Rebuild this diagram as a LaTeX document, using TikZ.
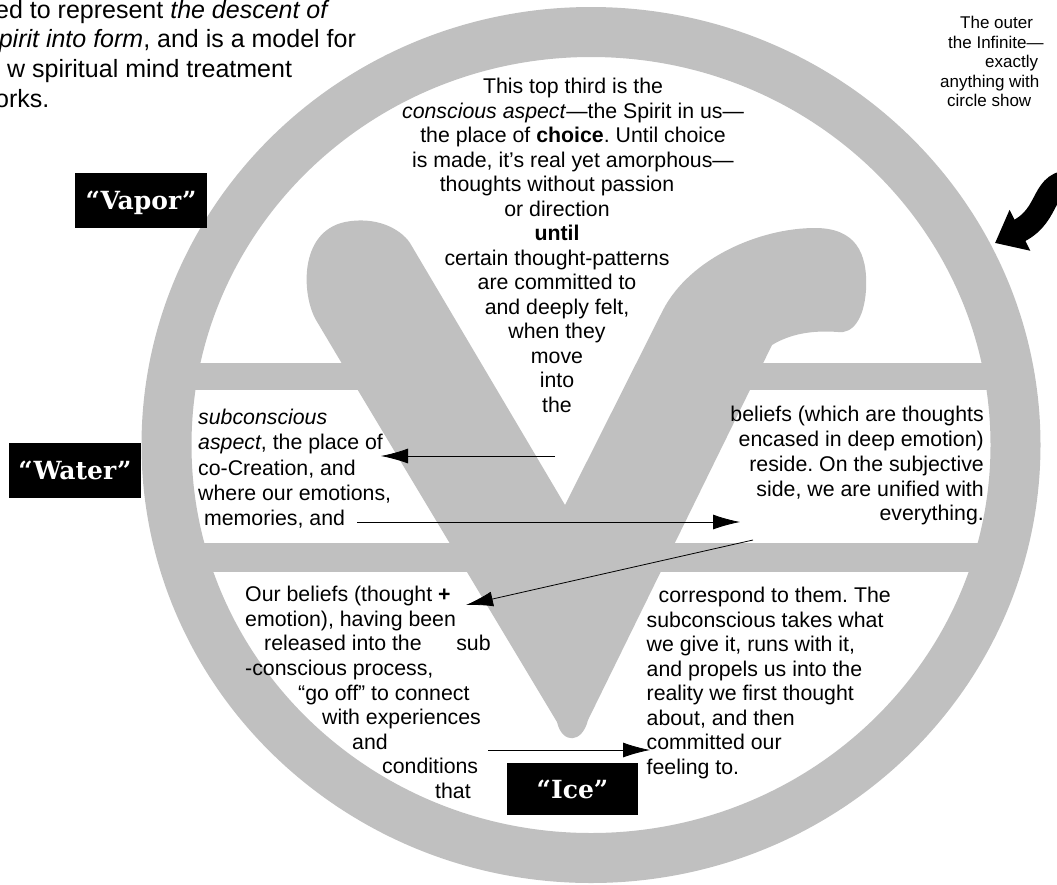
\documentclass[tikz,border=0pt]{standalone}
\usepackage{fontspec}
\setmainfont{Liberation Sans}
\newfontfamily\stagefont{DejaVu Serif}
\usetikzlibrary{
  positioning,
  arrows.meta
}
\definecolor{vgray}{HTML}{C0C0C0}
\frenchspacing
\tikzset{
  body/.style={inner sep=0pt,font=\fontsize{21.3}{24.5}\selectfont},
  stage/.style={fill=black,text=white,inner sep=0pt,minimum width=132pt,
    minimum height=55pt,text height=18pt,text depth=0pt,
    font=\stagefont\bfseries\fontsize{25}{26}\selectfont},
  thin arrow/.style={->,line width=0.8pt}
}

\begin{document}
\begin{tikzpicture}[x=1pt,y=-1pt,>={Latex[length=27pt,width=15pt]}]
  \useasboundingbox (0,0) rectangle (1057,884);
  % bands
  \fill[vgray] (170,363) rectangle (420,390);
  \fill[vgray] (690,363) rectangle (1015,390);
  \fill[vgray] (180,543) rectangle (1005,572);
  % the V
  \fill[vgray] (557,722) -- (341,362) -- (316,320)
    .. controls (302,296) and (298,232) .. (345,222)
    .. controls (375,216) and (400,228) .. (410,243)
    -- (565,505) -- (663,310)
    .. controls (690,258) and (760,228) .. (815,228)
    .. controls (855,228) and (868,252) .. (866,290)
    .. controls (864,320) and (852,334) .. (838,332)
    .. controls (812,330) and (790,334) .. (772,345)
    -- (588,720)
    .. controls (582,744) and (562,744) .. (557,722) -- cycle;
  % ring
  \draw[vgray,line width=50pt] (591,445) ellipse [x radius=424.5,y radius=413];

  % page text, cut off
  \node[inner sep=0pt,anchor=north west,align=left,
    font=\fontsize{25}{29.7}\selectfont] (intro) at (-5,-2.8)
    {\strut ed to represent \textit{the descent of}\\
     \hspace*{3.6pt}\textit{pirit into form}, and is a model for\\
     \hspace*{12pt}w spiritual mind treatment\\
     orks.};
  \node[inner sep=0pt,anchor=north west,align=left,
    font=\fontsize{17}{19.5}\selectfont] (outer) at (940,14.85)
    {\strut\hspace*{20pt}The outer\\
     \hspace*{8pt}the Infinite—\\
     \hspace*{45pt}exactly\\
     anything with\\
     \hspace*{7pt}circle show};

  % texts of the three parts
  \node[body,anchor=north,align=center] (spirit) at (573,76.35)
    {\strut This top third is the\\
     \textit{conscious aspect}—the Spirit in us—\\
     the place of \textbf{choice}. Until choice\\
     is made, it’s real yet amorphous—};
  \node[body,anchor=north,align=center] (until) at (557,174.35)
    {\strut thoughts without passion\\
     or direction\\
     \textbf{until}\\
     certain thought-patterns\\
     are committed to\\
     and deeply felt,\\
     when they\\
     move\\
     into\\
     the};
  \node[body,anchor=north west,align=left,
    font=\fontsize{21.3}{25.2}\selectfont] (subc) at (198,406.85)
    {\strut\textit{subconscious}\\
     \textit{aspect}, the place of\\
     co-Creation, and\\
     where our emotions,\\
     \hspace*{5.9pt}memories, and};
  \node[body,anchor=north east,align=right,
    font=\fontsize{21.3}{24.75}\selectfont] (beliefs) at (984,404.35)
    {\strut beliefs (which are thoughts\\
     encased in deep emotion)\\
     reside. On the subjective\\
     side, we are unified with\\
     everything.};
  \node[body,anchor=north west,align=left,
    font=\fontsize{21.3}{24.6}\selectfont] (ours) at (245,584.35)
    {\strut Our beliefs (thought \textbf{+}\\
     emotion), having been\\
     \hspace*{19pt}released into the\hspace{34.6pt}sub\\
     -conscious process,\\
     \hspace*{53pt}“go off” to connect\\
     \hspace*{77pt}with experiences\\
     \hspace*{107pt}and\\
     \hspace*{137pt}conditions\\
     \hspace*{190pt}that};
  \node[body,anchor=north west,align=left] (corr) at (646.5,585.35)
    {\strut\hspace*{12pt}correspond to them. The\\
     subconscious takes what\\
     we give it, runs with it,\\
     and propels us into the\\
     reality we first thought\\
     about, and then\\
     committed our\\
     feeling to.};

  % stage labels
  \node[stage] (vapor) at (141,200.5) {“Vapor”};
  \node[stage] (water) at (75,470.5) {“Water”};
  \node[stage,minimum width=131pt,minimum height=52pt] (ice) at (572.5,789) {“Ice”};

  % connectors
  \coordinate (a1) at (555,456);
  \coordinate (b1) at (381,456);
  \coordinate (a2) at (357,522);
  \coordinate (b2) at (740,522);
  \coordinate (a3) at (753,540);
  \coordinate (b3) at (466,605);
  \coordinate (a4) at (488,750);
  \coordinate (b4) at (650,750);
  \draw[thin arrow] (a1) -- (b1);
  \draw[thin arrow] (a2) -- (b2);
  \draw[thin arrow] (a3) -- (b3);
  \draw[thin arrow] (a4) -- (b4);

  % black arrow onto the circle
  \coordinate (bend) at (1075,182);
  \coordinate (hit) at (995,243);
  \draw[line width=24pt,-{Triangle[length=28pt,width=44pt]}]
    (bend) .. controls (1040,180) and (1052,214) .. (hit);
\end{tikzpicture}
\end{document}
